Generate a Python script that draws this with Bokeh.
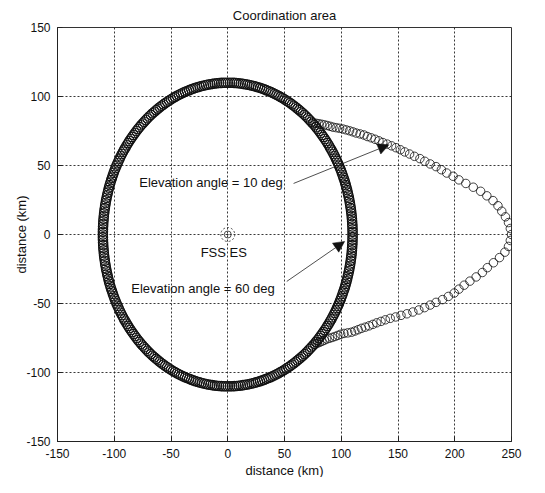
import numpy as np
from bokeh.plotting import figure
from bokeh.models import Arrow, NormalHead, Label, SingleIntervalTicker, PrintfTickFormatter, Title
from bokeh.embed import file_html
from bokeh.resources import INLINE

# ---- data ----
# 60 deg elevation contour: radius (km) at each azimuth (deg)
az60 = list(range(0, 360))
r60 = [110] * 360

# 10 deg elevation contour lobe: azimuth (deg) and radius (km)
az10 = list(range(-46, 48))
r10 = [110.5, 111.5, 112.5, 113.5, 114.5, 115.5, 117, 118.5, 120, 121.5,
       123, 125, 127.5, 130, 132, 134, 136, 138.5, 141, 143.5,
       146, 149, 152, 155.5, 159.5, 163.5, 168, 172.5, 177, 181.3,
       185.5, 190, 195, 199.5, 204, 207.5, 211.5, 216, 221, 226,
       230, 235, 240, 244.5, 247.5, 249,
       250, 249, 247.5, 245, 242, 239, 235, 230, 225, 219,
       213, 207.5, 203, 198, 194, 190, 185.5, 181.5, 178, 174,
       170.5, 167, 164, 161, 158, 155, 152, 149.5, 147, 144.5,
       142, 140, 137.5, 135, 133, 131, 129, 127, 125, 123,
       121, 119.5, 118, 116.5, 115, 113.5, 112, 110.5]

# earth station
es_x = [0]
es_y = [0]

# annotations
label_texts = ["Elevation angle = 10 deg", "Elevation angle = 60 deg", "FSS ES"]
label_x = [-78, -85, -3.5]
label_y = [38, -39, -13]
arrow_x0 = [58, 52]
arrow_y0 = [37, -34]
arrow_x1 = [142, 103]
arrow_y1 = [65, -5]

title_text = "Coordination area"
x_label = "distance (km)"
y_label = "distance (km)"

# ---- figure ----
FONT = "Liberation Sans"
p = figure(width=529, height=477, x_range=(-150, 250), y_range=(-150, 150),
           output_backend="svg", toolbar_location=None,
           min_border_left=57, min_border_right=18,
           min_border_top=26, min_border_bottom=0)
p.background_fill_color = "white"
p.border_fill_color = "white"
p.outline_line_color = "#333333"
p.outline_line_width = 1

p.title.text = title_text
p.title.align = "center"
p.title.text_font = FONT
p.title.text_font_size = "13px"
p.title.text_font_style = "normal"
p.title.text_color = "#111111"

for ax in (p.xaxis[0], p.yaxis[0]):
    ax.ticker = SingleIntervalTicker(interval=50)
    ax.formatter = PrintfTickFormatter(format="%d")
    ax.major_tick_in = 5
    ax.major_tick_out = 0
    ax.minor_tick_line_color = None
    ax.axis_line_color = "#222222"
    ax.major_tick_line_color = "#222222"
    ax.major_label_text_font = FONT
    ax.major_label_text_font_size = "12px"
    ax.major_label_text_color = "#111111"
    ax.major_label_standoff = 3
    ax.axis_label_text_font = FONT
    ax.axis_label_text_font_size = "13px"
    ax.axis_label_text_font_style = "normal"
    ax.axis_label_text_color = "#111111"

p.yaxis.axis_label = y_label
p.yaxis.axis_label_standoff = -6

# x-axis title placed as a compact panel below the axis
p.add_layout(Title(text=x_label, align="center", text_font=FONT, text_font_size="13px",
                   text_font_style="normal", text_color="#111111", standoff=0,
                   offset=0), "below")

p.grid.grid_line_color = "#222222"
p.grid.grid_line_dash = "2 2"
p.grid.grid_line_width = 1
p.grid.grid_line_alpha = 0.9
p.xgrid.ticker = SingleIntervalTicker(interval=50)
p.ygrid.ticker = SingleIntervalTicker(interval=50)

# contours (polar -> cartesian)
a60 = np.radians(az60)
x60 = np.array(r60) * np.cos(a60)
y60 = np.array(r60) * np.sin(a60)
a10 = np.radians(az10)
x10 = np.array(r10) * np.cos(a10)
y10 = np.array(r10) * np.sin(a10)

p.scatter(x60, y60, marker="circle", size=9.5, fill_color=None,
          line_color="#111111", line_width=1.1)
p.scatter(x10, y10, marker="circle", size=8.5, fill_color=None,
          line_color="#111111", line_width=0.8)

# earth station symbol
p.scatter(es_x, es_y, marker="circle_dot", size=7, fill_color=None,
          line_color="#222222", line_width=0.8)
p.scatter(es_x, es_y, marker="circle", size=14, fill_color=None,
          line_color="#222222", line_width=0.8, line_dash="2 2")

# labels
aligns = ["left", "left", "center"]
for t, lx, ly, al in zip(label_texts, label_x, label_y, aligns):
    p.add_layout(Label(x=lx, y=ly, text=t, text_font=FONT, text_font_size="13px",
                       text_color="#111111", text_align=al, text_baseline="middle"))

for x0, y0, x1, y1 in zip(arrow_x0, arrow_y0, arrow_x1, arrow_y1):
    p.add_layout(Arrow(x_start=x0, y_start=y0, x_end=x1, y_end=y1,
                       line_color="#222222", line_width=0.8,
                       end=NormalHead(size=11, fill_color="#111111",
                                      line_color="#111111", line_width=0.5)))

open("out.html", "w").write(file_html(p, INLINE))
